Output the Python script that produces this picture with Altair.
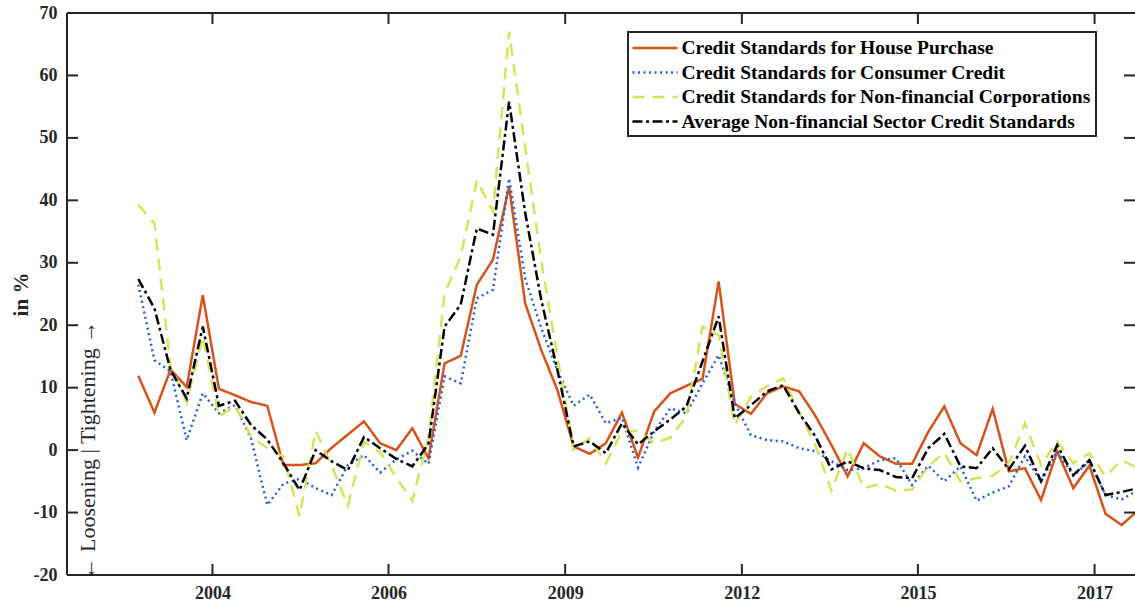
import altair as alt
import pandas as pd

# Bank lending survey: net percentage of banks tightening credit standards, 2003Q1-2018Q3
series_names = [
    "Credit Standards for House Purchase",
    "Credit Standards for Consumer Credit",
    "Credit Standards for Non-financial Corporations",
    "Average Non-financial Sector Credit Standards",
]

house = [11.9, 6.0, 12.9, 10.1, 24.8, 9.8, 8.8, 7.7, 7.1, -2.4,
         -2.4, -2.1, 0.4, 2.5, 4.6, 1.1, 0.0, 3.5, -1.3, 13.9,
         15.1, 26.5, 30.5, 42.2, 23.5, 16.0, 9.6, 0.6, -0.6, 1.1,
         6.0, -1.2, 6.2, 9.1, 10.3, 11.4, 27.0, 7.4, 5.8, 9.1,
         10.2, 9.4, 5.5, 0.8, -4.2, 1.1, -1.0, -2.2, -2.2, 2.9,
         7.0, 1.1, -0.8, 6.6, -3.4, -2.9, -8.0, -0.2, -6.1, -2.5,
         -10.2, -12.0, -9.7]

consumer = [26.5, 14.4, 12.6, 1.6, 9.1, 5.9, 7.2, 1.8, -8.8, -5.4,
            -4.6, -6.1, -7.2, -2.4, -0.8, -3.6, -1.5, -0.1, -2.2, 11.8,
            10.7, 24.3, 25.7, 43.5, 27.5, 19.5, 12.8, 7.1, 8.9, 4.3,
            5.2, -2.8, 3.0, 6.7, 5.9, 10.7, 15.2, 7.5, 2.4, 1.6,
            1.4, 0.3, -0.2, -1.8, -3.2, -2.9, -1.6, -1.3, -5.6, -2.5,
            -5.0, -2.6, -8.1, -6.8, -5.8, -1.0, -5.0, -0.2, -4.1, -1.8,
            -7.2, -7.9, -6.4]

corporations = [39.3, 36.3, 13.4, 7.6, 18.2, 5.4, 7.1, 2.2, 0.3, -1.0,
                -10.6, 3.1, -2.5, -8.9, 1.3, -0.3, -4.4, -8.1, 2.0, 25.1,
                31.0, 43.2, 38.2, 67.0, 48.4, 30.3, 15.0, 0.0, 1.9, -2.1,
                3.0, 3.1, 1.1, 2.0, 5.4, 19.8, 18.4, 4.0, 8.6, 10.2,
                11.5, 6.0, 0.8, -6.5, 0.2, -6.1, -5.4, -6.5, -6.3, -2.6,
                -0.4, -5.0, -4.5, -4.1, -2.1, 4.3, -2.4, 1.4, -2.1, -0.5,
                -4.2, -1.6, -2.9]

average = [27.4, 22.7, 12.8, 8.3, 19.8, 7.1, 7.9, 4.0, 1.7, -2.1,
           -6.4, 0.0, -1.8, -3.2, 2.1, 0.3, -1.4, -2.6, 1.0, 19.8,
           23.3, 35.5, 34.5, 55.8, 38.0, 24.0, 12.8, 0.6, 1.4, -0.5,
           4.3, 0.9, 3.0, 4.9, 7.0, 14.2, 21.4, 5.1, 7.2, 9.4,
           10.4, 5.9, 2.2, -3.1, -1.8, -2.9, -3.2, -4.3, -4.5, 0.3,
           2.6, -2.6, -2.9, 0.3, -3.1, 0.7, -5.0, 0.8, -4.0, -1.6,
           -7.2, -6.7, -6.1]

# quarterly calendar expressed as fractional years
periods = pd.period_range("2003Q1", "2018Q3", freq="Q")
time = [p.year + (p.quarter - 1) / 4 for p in periods]

# axis tick positions (labelled with their calendar year) and value ticks
year_ticks = [2004.15, 2006.88, 2009.62, 2012.36, 2015.09, 2017.83]
value_ticks = list(range(-20, 71, 10))

colors = ["#D95319", "#1F5FE0", "#D8E35A", "#000000"]
dashes = [[1, 0], [2, 3.5], [12, 8], [10, 3.5, 3, 3.5]]

rows = []
for name, vals in zip(series_names, [house, consumer, corporations, average]):
    for t, v in zip(time, vals):
        rows.append({"time": t, "value": v, "series": name})
df = pd.DataFrame(rows)

note = pd.DataFrame({"time": [2002.22], "value": [0],
                     "text": ["\u2190 Loosening | Tightening \u2192"]})
x_tick_df = pd.DataFrame({"time": year_ticks})
y_tick_df = pd.DataFrame({"value": value_ticks})

FONT = "Liberation Serif"
INK = "#262626"
W, H = 1068, 562
TICK = 11

x_scale = alt.Scale(domain=[2001.894, 2018.457], nice=False, zero=False)
y_scale = alt.Scale(domain=[-20, 70], nice=False, zero=False)

label_style = dict(labelFont=FONT, labelFontSize=18, labelFontWeight="bold",
                   labelColor=INK)

bottom_axis = alt.Axis(orient="bottom", values=year_ticks,
                       labelExpr="format(floor(datum.value), 'd')",
                       labelPadding=9, title=None, grid=False, ticks=False,
                       domain=False, **label_style)
# the axis title keeps its automatic placement, just left of the labels
left_axis = alt.Axis(orient="left", values=value_ticks, labelPadding=10,
                     labelExpr="toString(datum.value)", grid=False, ticks=False,
                     domain=False, title="in %", titleFont=FONT, titleFontSize=21,
                     titleFontWeight="bold", titleColor=INK, titlePadding=2,
                     **label_style)

# encodings for the decoration layers: same scales, no axes of their own
x_plain = alt.X("time:Q", scale=x_scale, axis=None)
y_plain = alt.Y("value:Q", scale=y_scale, axis=None)

legend = alt.Legend(
    title=None, orient="none", legendX=561, legendY=19, direction="vertical",
    symbolType="M-2.25,0H2.25", symbolSize=400, symbolOffset=11,
    symbolStrokeWidth=2.5, labelOffset=15, labelFont=FONT, labelFontSize=19.5,
    labelFontWeight="bold", labelColor="black", labelLimit=0,
    padding=4.5, rowPadding=3.5, strokeColor=INK, fillColor="white",
)

lines = alt.Chart(df).mark_line(strokeWidth=2.5).encode(
    x=alt.X("time:Q", scale=x_scale, axis=bottom_axis),
    y=alt.Y("value:Q", scale=y_scale, axis=left_axis),
    color=alt.Color("series:N", scale=alt.Scale(domain=series_names, range=colors),
                    legend=legend),
    strokeDash=alt.StrokeDash("series:N",
                              scale=alt.Scale(domain=series_names, range=dashes),
                              legend=legend),
)

# box edges (left, bottom, top) and inward tick marks on all four sides
edge = alt.Chart().mark_rule(color=INK, strokeWidth=2)
left_edge = edge.properties(data=note).encode(
    x=alt.value(0), y=alt.value(0), y2=alt.value(H))
bottom_edge = edge.properties(data=note).encode(
    x=alt.value(0), x2=alt.value(W), y=alt.value(H))
top_edge = edge.properties(data=note).encode(
    x=alt.value(0), x2=alt.value(W), y=alt.value(0))
x_ticks_bottom = edge.properties(data=x_tick_df).encode(
    x=x_plain, y=alt.value(H), y2=alt.value(H - TICK))
x_ticks_top = edge.properties(data=x_tick_df).encode(
    x=x_plain, y=alt.value(0), y2=alt.value(TICK))
y_ticks_left = edge.properties(data=y_tick_df).encode(
    y=y_plain, x=alt.value(0), x2=alt.value(TICK))
y_ticks_right = edge.properties(data=y_tick_df).encode(
    y=y_plain, x=alt.value(W), x2=alt.value(W - TICK))

label = alt.Chart(note).mark_text(
    angle=270, font=FONT, fontSize=22, color=INK, align="center", baseline="middle"
).encode(x=x_plain, y=y_plain, text="text:N")

chart = (
    alt.layer(lines, left_edge, bottom_edge, top_edge, x_ticks_bottom, x_ticks_top,
              y_ticks_left, y_ticks_right, label)
    .resolve_scale(x="shared", y="shared")
    .resolve_axis(x="independent", y="independent")
    .properties(
        width=W, height=H,
        padding={"left": 67, "top": 13, "right": 0, "bottom": 27},
        autosize=alt.AutoSizeParams(type="none"),
        background="white",
    )
    .configure_view(stroke=None)
    .configure_legend(strokeWidth=2)
)

chart.save("out.html", embed_options={"renderer": "svg", "actions": False})
